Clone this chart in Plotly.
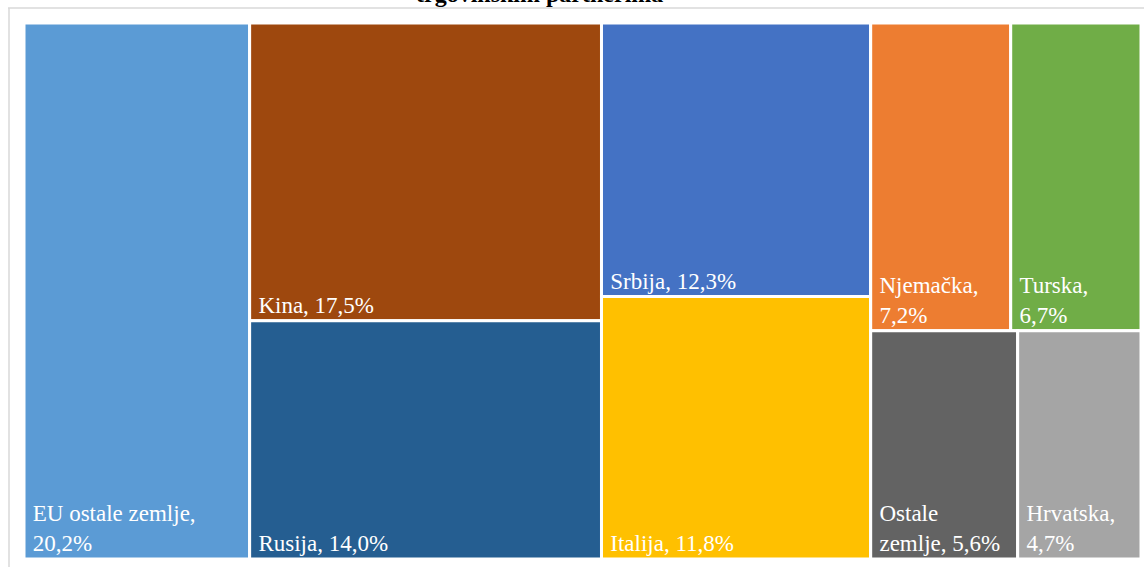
import plotly.graph_objects as go

# leaves
countries = ["EU ostale zemlje", "Kina", "Rusija", "Srbija", "Italija",
             "Njemačka", "Turska", "Ostale zemlje", "Hrvatska"]
shares = [20.2, 17.5, 14.0, 12.3, 11.8, 7.2, 6.7, 5.6, 4.7]
display = ["EU ostale zemlje,<br>{}", "Kina, {}", "Rusija, {}", "Srbija, {}",
           "Italija, {}", "Njemačka,<br>{}", "Turska,<br>{}",
           "Ostale<br>zemlje, {}", "Hrvatska,<br>{}"]
colors = ["#5b9bd5", "#9e480e", "#255e91", "#4472c4", "#ffc000",
          "#ed7d31", "#70ad47", "#636363", "#a5a5a5"]
# grouping used by Excel's column layout
groups = ["g1", "g2", "g2", "g3", "g3", "r1", "r1", "r2", "r2"]
group_parent = {"g1": "", "g2": "", "g3": "", "g4": "", "r1": "g4", "r2": "g4"}

W, H = 1144, 567
ML, MR, MT, MB = 24, 3, 23, 8
PAD = "\u00a0"

ids, labels, parents, values, texts, cols = [], [], [], [], [], []
for g, p in group_parent.items():
    ids.append(g)
    labels.append(g)
    parents.append(p)
    values.append(0)
    texts.append("")
    cols.append("white")
for c, v, d, col, g in zip(countries, shares, display, colors, groups):
    ids.append(c)
    labels.append(c)
    parents.append(g)
    values.append(v)
    t = d.format(f"{v:.1f}%".replace(".", ","))
    texts.append("<br>".join(PAD + line for line in t.split("<br>")))
    cols.append(col)

fig = go.Figure(go.Treemap(
    ids=ids, labels=labels, parents=parents, values=values,
    branchvalues="remainder", sort=False,
    text=texts, texttemplate="%{text}", textposition="bottom left",
    textfont=dict(family="Liberation Serif", size=23, color="white"),
    marker=dict(colors=cols, line=dict(width=3, color="white"),
                pad=dict(t=0, l=0, r=0, b=0)),
    tiling=dict(packing="slice-dice", pad=0),
    pathbar=dict(visible=False),
    hoverinfo="label+value",
))

pw = W - ML - MR
ph = H - MT - MB
fig.add_annotation(text="<b>trgovinskim partnerima</b>", showarrow=False,
                   xref="paper", yref="paper",
                   x=(539 - ML) / pw, y=1 + (MT - 9) / ph,
                   xanchor="center", yanchor="bottom",
                   font=dict(family="Liberation Serif", size=24, color="black"))
# chart frame
fig.add_shape(type="line", xref="paper", yref="paper",
              x0=(8 - ML) / pw, x1=1 + MR / pw, y0=1 + (MT - 8) / ph, y1=1 + (MT - 8) / ph,
              line=dict(color="#d9d9d9", width=1.5))
fig.add_shape(type="line", xref="paper", yref="paper",
              x0=(9 - ML) / pw, x1=(9 - ML) / pw, y0=-MB / ph, y1=1 + (MT - 8) / ph,
              line=dict(color="#d9d9d9", width=1.5))

fig.update_layout(
    width=W, height=H,
    margin=dict(l=ML, r=MR, t=MT, b=MB),
    paper_bgcolor="white",
    showlegend=False,
)
fig.write_html("out.html", config={"displayModeBar": False},
               post_script="document.body.style.margin='0';")
